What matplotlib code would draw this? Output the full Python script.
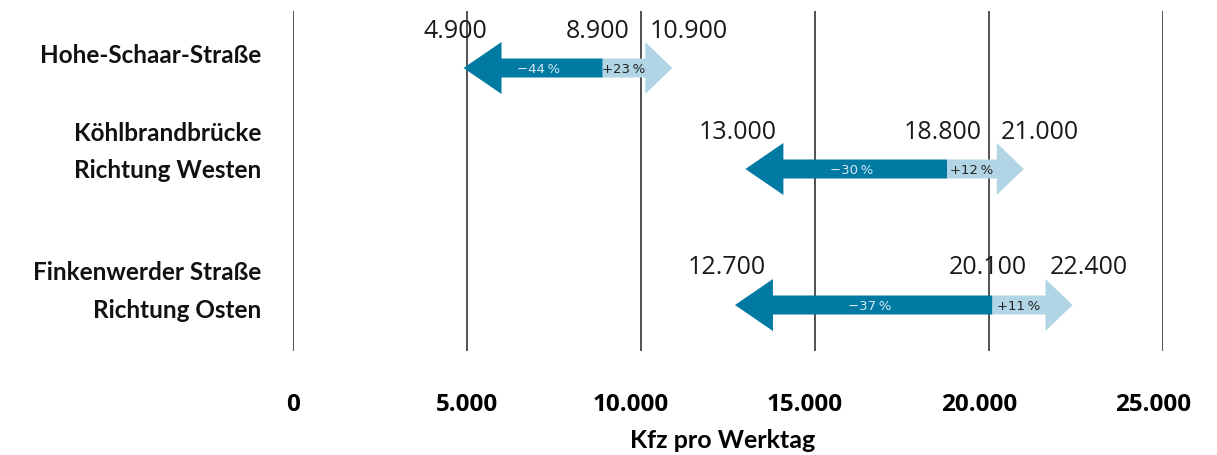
import matplotlib.pyplot as plt
from matplotlib.transforms import offset_copy

# Verkehrsmengen (Kfz pro Werktag): vorher -> Tiefstwert / Höchstwert
routes = [["Hohe-Schaar-Straße"],
          ["Köhlbrandbrücke", "Richtung Westen"],
          ["Finkenwerder Straße", "Richtung Osten"]]
low = [4900, 13000, 12700]
base = [8900, 18800, 20100]
high = [10900, 21000, 22400]
pct_down = ["\u221244\u2009%", "\u221230\u2009%", "\u221237\u2009%"]
pct_up = ["+23\u2009%", "+12\u2009%", "+11\u2009%"]
ticks = [0, 5000, 10000, 15000, 20000, 25000]

dark = "#0079a3"
light = "#b2d5e5"

W, H = 1217, 456
fig = plt.figure(figsize=(W / 100, H / 100), dpi=100)
ax = fig.add_axes([293 / W, (H - 352) / H, 870 / W, 340 / H])
ax.set_xlim(0, 25000)
ax.set_ylim(352, 12)  # y in Pixelzeilen, von oben nach unten

px = 25000 / 870  # Dateneinheiten pro Pixel in x
row_y = [69, 170, 306]
head_l = 38 * px
head_r = 27 * px
shaft = 9.5
head = 26

for y, lo, b, hi, pd, pu in zip(row_y, low, base, high, pct_down, pct_up):
    # dunkler Teil: Pfeilspitze nach links + Schaft bis Ausgangswert
    ax.fill([lo, lo + head_l, lo + head_l, b, b, lo + head_l, lo + head_l],
            [y, y - head, y - shaft, y - shaft, y + shaft, y + shaft, y + head],
            color=dark, lw=0, zorder=3)
    # heller Teil: Schaft ab Ausgangswert + Pfeilspitze nach rechts
    ax.fill([b, hi - head_r, hi - head_r, hi, hi - head_r, hi - head_r, b],
            [y - shaft, y - shaft, y - head, y, y + head, y + shaft, y + shaft],
            color=light, lw=0, zorder=3)
    ax.text((lo + head_l * 0.3 + b) / 2, y, pd, ha="center", va="center",
            fontsize=9.5, color="#d5e9f2", family="DejaVu Sans", zorder=4)
    ax.text((b + hi - head_r) / 2, y, pu, ha="center", va="center",
            fontsize=9.5, color="#222222", family="DejaVu Sans", zorder=4)
    for v, dx in ((lo, -8 * px), (b, -5 * px), (hi, 16 * px)):
        ax.text(v + dx, y - 38, f"{v:,}".replace(",", "."), ha="center",
                va="center", fontsize=18, color="#1a1a1a", family="Open Sans")

for t in ticks:
    ax.axvline(t, color="#333333", lw=1.2, zorder=1)

# Achsenbeschriftung unten (fünfstellige Werte leicht nach links gesetzt)
ax.set_xticks([])
ax.set_yticks([])
for s in ax.spines.values():
    s.set_visible(False)
for t in ticks:
    tr = offset_copy(ax.transData, fig=fig,
                     x=-10 if t >= 10000 else 0, y=0, units="dots")
    ax.text(t, 405, f"{t:,}".replace(",", "."), transform=tr, ha="center",
            va="center", fontsize=17.5, fontweight="bold", family="Open Sans")

fig.text(723 / W, (H - 441) / H, "Kfz pro Werktag", ha="center",
         va="center", fontsize=18, fontweight="bold", family="Lato")

# Beschriftung der Strecken links neben dem Diagramm
label_y = [[55], [133, 170], [272, 310]]
lab_tr = offset_copy(ax.get_yaxis_transform(), fig=fig, x=-32, y=0, units="dots")
for lines, ys in zip(routes, label_y):
    for txt, yy in zip(lines, ys):
        ax.text(0, yy, txt, transform=lab_tr, ha="right", va="center",
                fontsize=17.5, fontweight="bold", family="Lato", color="#111111")

fig.savefig("out.png", dpi=100)
